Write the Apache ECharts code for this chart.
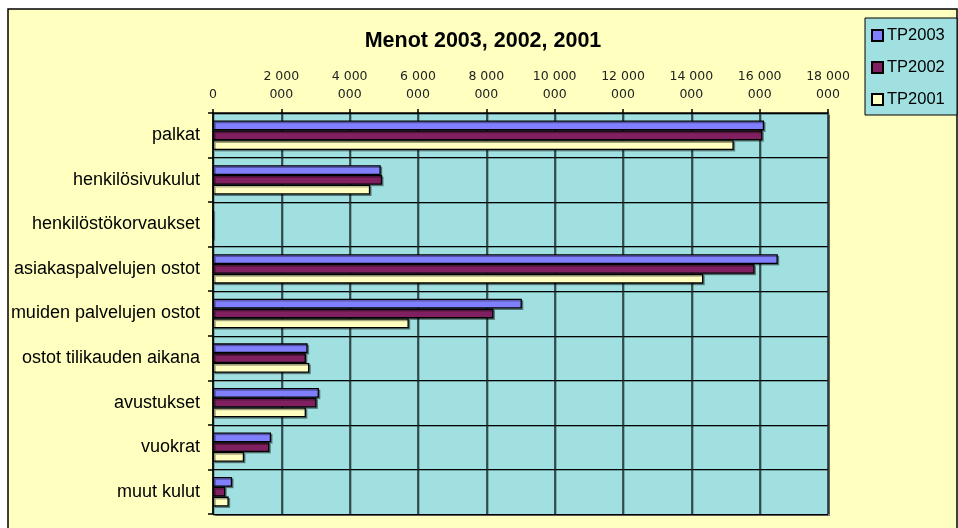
<!DOCTYPE html>
<html>
<head>
<meta charset="utf-8">
<script src="https://cdn.jsdelivr.net/npm/echarts@6/dist/echarts.min.js"></script>
<style>html,body{margin:0;padding:0;background:#fff;}#c{width:958px;height:528px;}</style>
</head>
<body>
<div id="c"></div>
<script>
const categories = ['palkat','henkilösivukulut','henkilöstökorvaukset','asiakaspalvelujen ostot','muiden palvelujen ostot','ostot tilikauden aikana','avustukset','vuokrat','muut kulut'];
const seriesNames = ['TP2003','TP2002','TP2001'];
const tp2003 = [16130000, 4910000, 0, 16530000, 9040000, 2770000, 3100000, 1700000, 560000];
const tp2002 = [16080000, 4950000, 0, 15850000, 8210000, 2720000, 3030000, 1650000, 360000];
const tp2001 = [15240000, 4600000, 0, 14350000, 5730000, 2820000, 2720000, 910000, 460000];
const tickValues = [0, 2000000, 4000000, 6000000, 8000000, 10000000, 12000000, 14000000, 16000000, 18000000];
const tickLabels = ['0','2 000\n000','4 000\n000','6 000\n000','8 000\n000','10 000\n000','12 000\n000','14 000\n000','16 000\n000','18 000\n000'];
const colors = ['#8080ff','#802060','#ffffc0'];

const chart = echarts.init(document.getElementById('c'), null, {renderer:'canvas'});
const barStyle = (c) => ({color:c, borderColor:'#000', borderWidth:1.3, shadowColor:'rgba(0,0,0,0.35)', shadowOffsetX:1.5, shadowOffsetY:1.5, shadowBlur:0});
const allData = [tp2003, tp2002, tp2001];
chart.setOption({
  backgroundColor:'#ffffff',
  animation:false,
  title:{text:'Menot 2003, 2002, 2001', left:478, top:25, textAlign:'center',
    textStyle:{fontFamily:'Liberation Sans, Arial', fontSize:21.5, fontWeight:'bold', color:'#000'}},
  graphic:[
    {type:'rect', z:-10, shape:{x:8, y:9, width:949, height:540}, style:{fill:'#ffffc0', stroke:'#000', lineWidth:1.5}},
    {type:'rect', z:-5, shape:{x:215, y:115, width:615, height:401}, style:{fill:'#808080'}},
    {type:'rect', z:1, shape:{x:865, y:18, width:92, height:97}, style:{fill:'#a0e0e0', stroke:'#000', lineWidth:1}}
  ],
  legend:{orient:'vertical', left:866, top:22, itemWidth:11, itemHeight:11, itemGap:15, icon:'rect',
    data:seriesNames,
    textStyle:{fontFamily:'Liberation Sans, Arial', fontSize:16.5, color:'#000', padding:[0,0,0,-1]}},
  grid:{left:213, right:130, top:113, bottom:14, show:true, backgroundColor:'#a0e0e0', borderWidth:0},
  xAxis:{type:'value', position:'top', min:0, max:18000000, interval:2000000,
    axisLine:{show:true, lineStyle:{color:'#000', width:1.5}},
    axisTick:{show:true, length:4, lineStyle:{color:'#000', width:1.5}},
    splitLine:{show:true, lineStyle:{color:'#1a2a2a', width:1.5, shadowColor:'rgba(0,0,0,0.3)', shadowOffsetX:1, shadowOffsetY:0}},
    axisLabel:{show:true, showMaxLabel:true, showMinLabel:true, fontFamily:'DejaVu Sans', fontSize:12.5, color:'#222', lineHeight:18, margin:9,
      formatter:(v)=>{const i=tickValues.indexOf(v); return i>=0?tickLabels[i]:'';}}},
  yAxis:{type:'category', inverse:true, data:categories,
    axisLine:{show:true, lineStyle:{color:'#000', width:1.5}, z:10},
    axisTick:{show:true, length:5, lineStyle:{color:'#000', width:1.5}},
    splitLine:{show:true, lineStyle:{color:'#000', width:1.2, shadowColor:'rgba(0,0,0,0.3)', shadowOffsetY:1}},
    axisLabel:{fontFamily:'Liberation Sans, Arial', fontSize:18, color:'#000', margin:13}},
  series: seriesNames.map((n,i)=>({name:n, type:'bar', data:allData[i], barGap:'0%', barCategoryGap:'34%', itemStyle:barStyle(colors[i])}))
});
</script>
</body>
</html>
